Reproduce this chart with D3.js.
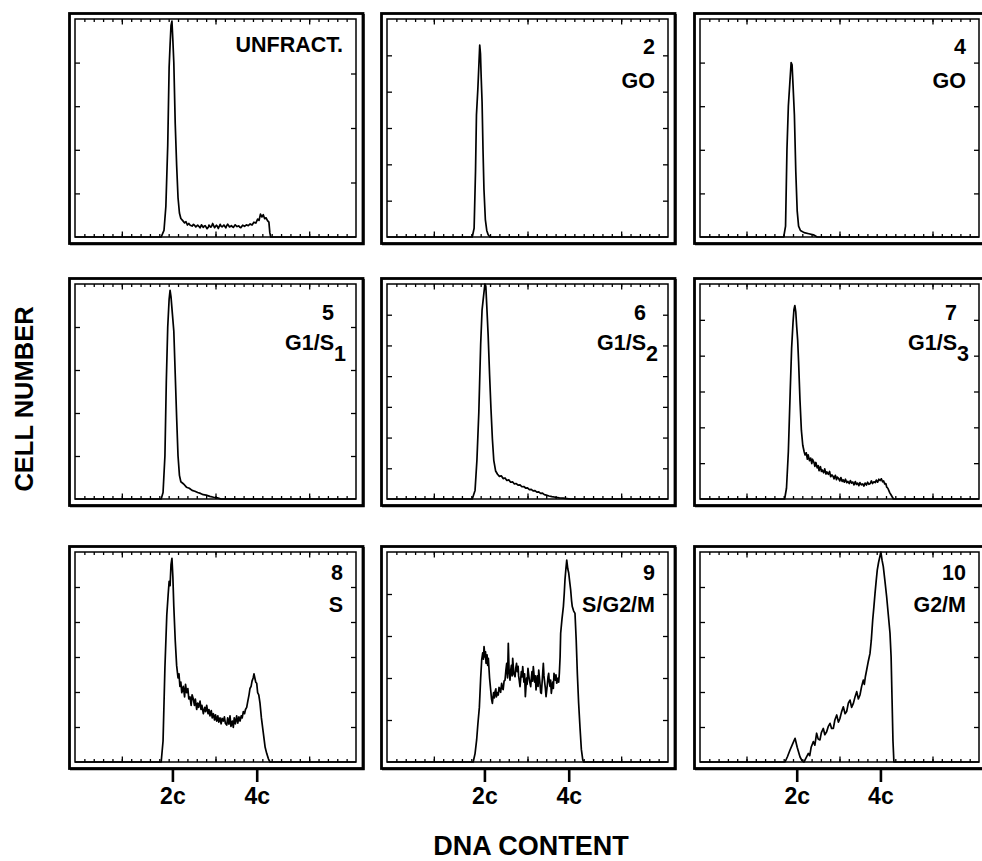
<!DOCTYPE html>
<html>
<head>
<meta charset="utf-8">
<script src="https://cdn.jsdelivr.net/npm/d3@7"></script>
<style>
  body { margin: 0; background: #fff; }
  text { font-family: "Liberation Sans", Arial, Helvetica, sans-serif; font-weight: bold; fill: #000; }
</style>
</head>
<body>
<svg></svg>
<script>

// ---- data (channel, % of full scale) ----
var unfract = [[0,0],[92,0],[95,3],[97,14],[99,42],[100.5,78],[101.5,88],[102.5,97],[103.5,99],[104.5,90],[105.5,80],[107,52],[108.5,33],[110,18],[111.5,11],[113,8.5],[115,7.5],[117,6.5],[118.5,7],[120,5.5],[121.5,6.2],[123,5.4],[125,5],[126.5,5.8],[128,5.2],[129,4.6],[131,5.4],[132.5,4.8],[133.5,4.2],[135,5.6],[137,4.4],[138,5],[139,5.2],[141,3.8],[142.5,4.6],[143,5.5],[145,4.5],[146,5.1],[147,6.2],[149,4.3],[151,5.4],[152,4.9],[153,3.9],[155,5.8],[156,5],[157,4.7],[159,5.5],[161,4.2],[162,5.2],[163,5.9],[165,4.6],[167,5.2],[168,4.7],[169,4.4],[171,5.6],[173,4.8],[175,5.1],[176,4.5],[177,4.3],[179,5.4],[181,4.9],[183,5.6],[185,5.2],[187,6],[189,5.5],[191,6.8],[193,6.4],[195,8.2],[196.5,7.6],[198,10.5],[199.5,9.2],[201,10.2],[202.5,8.4],[204,8.8],[205.5,7.5],[207,6.8],[208,2],[209,0],[300,0]];

var go2 = [[0,0],[91,0],[93,4],[94.5,30],[95.5,56],[97,68],[98,78],[99,88],[99.8,84],[100.5,74],[101.5,62],[102.5,40],[103.5,22],[105,8],[106.5,3],[108,1],[110,0],[300,0]];

var go4 = [[0,0],[90,0],[92,5],[93.5,40],[95,60],[96.5,70],[98,80],[99,79],[100,70],[101.5,56],[103,30],[104.5,12],[106,5],[108,3],[112,2],[117,1.5],[122,1],[126,0],[300,0]];

var g1s1 = [[0,0],[92,0],[94,3],[96,20],[97.5,55],[99,80],[100.5,93],[101.5,97],[102.5,94],[104,86],[105.5,78],[107,58],[108.5,38],[110,20],[111.5,11],[113,8],[116,7],[119,5.5],[122,5],[125,4],[128,3.6],[131,3],[134,2.6],[137,2],[140,1.8],[144,1.2],[148,0.8],[152,0.5],[156,0],[300,0]];

var g1s2 = [[0,0],[91,0],[94,4],[96,18],[98,40],[100,72],[101.5,88],[103,94],[104.5,100],[105.5,99],[106.5,90],[108,76],[109.5,58],[111,42],[112.5,28],[114,18],[116,13],[118,11.5],[120,10.5],[122,10.8],[124,9.5],[126,9.8],[128,8.6],[130,8.9],[132,7.8],[134,8],[136,7],[138,7.2],[140,6.4],[142,6.6],[144,5.7],[146,5.8],[148,5.1],[150,5.2],[152,4.4],[154,4.5],[156,3.8],[158,3.9],[160,3.2],[162,3.3],[164,2.6],[166,2.7],[168,2],[170,1.8],[173,1.4],[176,1.1],[180,0.8],[184,0.5],[188,0.4],[192,0.2],[196,0],[300,0]];

var g1s3 = [[0,0],[91,0],[93,5],[95,22],[97,50],[98.5,70],[100,82],[101,88],[102,90],[103,87],[104,80],[105,74],[106,64],[107.5,46],[109,32],[110.5,25],[112,22],[113,20.5],[114.2,21.5],[115.5,18.5],[116.3,20.5],[117.8,17.8],[119,19],[120.2,16.5],[121,18.5],[122.7,16.8],[123.5,15.2],[124.6,17],[126,14.5],[127.2,15.5],[128,13.2],[129.5,15],[130.6,12.8],[131.4,13.5],[133,12.2],[134.1,14],[135.5,11.6],[136.4,12.6],[138,11.5],[139.3,12.8],[140.5,10.4],[141.8,11.2],[143,10.6],[144.2,9.4],[145.5,11],[146.8,9],[147.6,10.2],[149,9.6],[150.3,8.4],[151.5,10],[152.8,8.2],[154,8.9],[155.2,7.8],[156.4,9.2],[157.8,7.6],[159,8.2],[160.5,7.2],[161.7,8.6],[163,7.4],[164.3,7.9],[165.6,6.6],[167,8.1],[168.2,6.8],[169.5,7.4],[170.8,6.2],[172,7.6],[173.5,6.6],[175,7],[176.2,6],[177.5,7.4],[179,6.5],[180.2,7.8],[181.6,6.8],[183,7.2],[184.3,8.4],[185.5,7.2],[187,8],[188.4,7.6],[189.6,8.8],[191,7.8],[192.3,9.2],[193.6,8.6],[195,9.4],[196.3,8],[197.5,8.4],[198.6,7],[199.8,7.2],[200.8,5.5],[202,5],[204,3],[206,1.5],[208,0],[300,0]];

var sPhase = [[0,0],[92,0],[94,10],[96,45],[98,70],[99.5,80],[100.5,86],[101.5,84],[102.5,94],[103.5,97],[104.5,88],[105.5,74],[107,58],[108.5,46],[110,40],[111,42],[112,36],[113,38],[114,33],[115.6,36],[117,31],[118,37],[119.2,33],[120.5,35],[121.5,30],[122.8,31],[124,27],[125,32],[126.3,30],[127.5,27],[128.5,30],[129.9,25],[131,28],[132,26],[133.5,29],[134.5,25],[135.5,27],[137,23],[138.5,26],[139.5,24],[140.6,27],[142,23],[143,25],[144.1,22],[145.5,24.5],[146.5,21],[147.7,23],[149,20],[150,22.5],[151.3,19.5],[152.5,22],[153.5,19],[154.8,21],[156,18.2],[157,20.8],[158.4,19.5],[159.5,21.5],[160.5,18.5],[162,17.6],[163,21],[164.3,18],[165.5,22],[166.5,17],[168,19.5],[169,16.5],[170,21],[171.2,18.2],[172.6,22],[173.8,18.5],[175,21.5],[176.2,19.5],[177.5,22],[178.5,21],[179.7,24],[181,23],[182,25],[183.3,26],[184.5,29],[185.8,32],[186.8,35],[188,36],[189,38.5],[190.2,40],[191.1,42],[192,40],[193,38],[194,37.5],[195,33],[196.2,32],[197.5,28],[199,21],[201,14],[203,7],[204.7,4],[206.5,1.5],[208.2,0],[300,0]];

var sG2M = [[0,0],[92,0],[94,4],[95.7,10.5],[97,18],[98.6,26],[100,40],[101.1,48.6],[102.2,52],[103,49],[103.6,55],[104.6,50],[105.2,52.5],[105.7,47],[106.8,51],[107.5,46],[108.2,49.4],[109.5,40],[110.7,34.3],[111.6,30],[112.5,27.9],[113.2,31],[113.8,33],[114.6,30.5],[115.3,33.5],[116.2,34.8],[116.8,31],[117.9,33],[118.8,31.9],[119.6,35.5],[120.5,35],[121.3,33.2],[122.4,37.5],[123.2,35],[124,34.5],[125,38.5],[126,39],[127,44],[127.8,47],[128.7,40],[129.5,56.5],[130.3,44],[131.3,39],[132,43.5],[132.8,46],[133.6,41],[134.2,49.4],[135.4,42],[136.7,40.6],[137.5,44.8],[138.3,47],[139.1,43],[140,45.5],[140.5,41],[141.3,38.5],[142,35.9],[143.4,43],[144.2,40.5],[144.9,45.4],[146.2,38],[146.9,42],[147.7,31.1],[149,40],[149.6,37],[150.5,44.6],[151.3,41.5],[152,39],[153.4,35.9],[154.1,40],[154.8,43],[155.5,38.5],[156.2,45.4],[157.7,38],[158.4,41],[159.1,34.3],[160.5,41],[161.3,36],[162,43.8],[163.4,37],[164.1,33],[164.8,32.7],[165.9,40],[166.9,47],[167.6,41],[168.3,38],[169.1,35],[169.8,31.1],[171.2,37],[171.9,40.5],[172.6,42.2],[173.3,38],[174,36],[174.7,39],[175.4,32.7],[176.9,38],[177.6,35],[178.3,42.2],[179.7,39],[180.4,41.5],[181.2,37.5],[182.6,40],[183.3,38],[184,42.2],[184.8,50],[185.4,61.3],[186.8,68],[188.3,74],[189.2,80],[190,86.7],[191,92],[191.9,96.2],[193,92],[194,90],[195,86],[196.1,81.9],[197,77],[197.8,74],[199.2,72],[200.7,70.8],[202,58],[203.2,42.2],[204.6,28],[206,16.8],[207.5,6],[209,1],[210,0],[300,0]];

var g2m = [[0,0],[91.4,0],[94,2.5],[96.8,5.7],[99.5,8.5],[102.2,11.3],[104.5,7],[107.5,2.5],[109.5,0.8],[111.8,0],[113.5,1.5],[116.5,4.1],[118,3],[119.5,7],[121.9,9.7],[123.5,8],[125.4,13.7],[127,11],[129,10.5],[130.5,14],[132.6,16],[134.2,13],[136.2,14.4],[138,17],[139.8,18.4],[141.5,16],[143.4,16],[145,20],[147,22.4],[148.8,19],[150.5,20.8],[152.3,24],[154.1,26.3],[156,23],[157.7,24],[159.5,28],[161.3,29.5],[163,26],[164.9,27.9],[166.7,31],[168.5,33.5],[170.3,30],[172,31.9],[173.8,36],[175.6,39],[176.7,37],[177.8,40.6],[179.2,43.8],[181,48],[182.8,51.7],[184.2,58],[185.7,67.6],[187,74],[188.2,80.3],[189.4,86],[190.6,91.4],[192,95],[193.5,98],[194.5,100],[195.8,96],[197.1,93],[198.9,86],[200.7,78.7],[202.5,70],[204.3,61.3],[205.5,50],[206.5,30],[207.5,10],[208.5,0],[300,0]];

var series = [unfract, go2, go4, g1s1, g1s2, g1s3, sPhase, sG2M, g2m];
var panelNumbers = ["", "2", "4", "5", "6", "7", "8", "9", "10"];
var panelNames = ["UNFRACT.", "GO", "GO", "G1/S", "G1/S", "G1/S", "S", "S/G2/M", "G2/M"];
var panelSubs = ["", "", "", "1", "2", "3", "", "", ""];
var leftTickCounts = [5, 6, 5, 5, 7, 6, 6, 5, 6];
var rightTickCounts = [4, 6, 5, 5, 7, 6, 6, 5, 6];
var xTickValues = [104, 194];
var xTickLabels = ["2c", "4c"];
var minorTicks = d3.range(10, 300, 10);
var majorTicks = [50, 150, 250];

// ---- layout ----
var W = 982, H = 861;
var colX = [75, 387, 700], colW = [281, 281, 279];
var rowY = [19, 284, 552], rowH = [218, 215, 210];
var numDy = [35, 36, 28], nameDy = [69, 66, 60];

var svg = d3.select("svg").attr("width", W).attr("height", H);

var line = d3.line().curve(d3.curveLinear);

series.forEach(function(data, i) {
  var r = Math.floor(i / 3), c = i % 3;
  var x0 = colX[c], y0 = rowY[r], w = colW[c], h = rowH[r];

  var x = d3.scaleLinear().domain([0, 300]).range([x0, x0 + w]);
  var y = d3.scaleLinear().domain([0, 100]).range([y0 + h, y0]);

  var g = svg.append("g").attr("class", "panel");

  // outer frame with heavier right/bottom edge
  g.append("rect")
    .attr("x", x0 - 5.5).attr("y", y0 - 5.5)
    .attr("width", w + 12.5).attr("height", h + 12)
    .attr("fill", "none").attr("stroke", "#000").attr("stroke-width", 2.8);
  g.append("path")
    .attr("d", "M" + (x0 + w + 8) + "," + (y0 - 5) + "V" + (y0 + h + 7.5) + "H" + (x0 - 5))
    .attr("fill", "none").attr("stroke", "#000").attr("stroke-width", 1.4);

  // inner frame
  g.append("rect")
    .attr("x", x0).attr("y", y0).attr("width", w).attr("height", h)
    .attr("fill", "none").attr("stroke", "#000").attr("stroke-width", 1.5);

  // inner tick marks
  var axes = [
    [d3.axisBottom(x).tickValues(minorTicks).tickSize(-3), y0 + h, 0],
    [d3.axisBottom(x).tickValues(majorTicks).tickSize(-5.5), y0 + h, 0],
    [d3.axisTop(x).tickValues(minorTicks).tickSize(-3), y0, 0],
    [d3.axisTop(x).tickValues(majorTicks).tickSize(-5.5), y0, 0],
    [d3.axisLeft(y).tickValues(d3.range(1, leftTickCounts[i]).map(function(k) { return 100 * k / leftTickCounts[i]; })).tickSize(-5), 0, x0],
    [d3.axisRight(y).tickValues(d3.range(1, rightTickCounts[i]).map(function(k) { return 100 * k / rightTickCounts[i]; })).tickSize(-5), 0, x0 + w]
  ];
  axes.forEach(function(a) {
    var ag = g.append("g")
      .attr("transform", "translate(" + a[2] + "," + a[1] + ")")
      .call(a[0].tickFormat(""));
    ag.select(".domain").remove();
    ag.selectAll("line").attr("stroke", "#000").attr("stroke-width", 1.3);
  });

  // histogram trace
  g.append("path")
    .datum(data)
    .attr("fill", "none")
    .attr("stroke", "#000")
    .attr("stroke-width", 1.7)
    .attr("stroke-linejoin", "round")
    .attr("d", line.x(function(d) { return x(d[0]); }).y(function(d) { return y(d[1]); }));

  // 2c / 4c ticks below the bottom row
  if (r === 2) {
    var xa = g.append("g")
      .attr("transform", "translate(0," + (y0 + h + 8) + ")")
      .call(d3.axisBottom(x).tickValues(xTickValues).tickSize(12).tickPadding(6)
        .tickFormat(function(d, k) { return xTickLabels[k]; }));
    xa.select(".domain").remove();
    xa.selectAll("line").attr("stroke", "#000").attr("stroke-width", 2.6);
    xa.selectAll("text").attr("font-size", 23).attr("fill", "#000")
      .style("font-family", "'Liberation Sans', Arial, sans-serif").style("font-weight", "bold");
  }

  // panel labels
  var right = x0 + w - 13;
  if (panelNumbers[i]) {
    g.append("text")
      .attr("x", r === 1 ? x0 + w - 22 : right)
      .attr("y", y0 + numDy[r])
      .attr("text-anchor", "end")
      .attr("font-size", 21.5)
      .text(panelNumbers[i]);
    var t = g.append("text")
      .attr("x", r === 1 ? x0 + w - 10 : right)
      .attr("y", y0 + nameDy[r])
      .attr("text-anchor", "end")
      .attr("font-size", 21.5);
    t.append("tspan").text(panelNames[i]);
    if (panelSubs[i]) t.append("tspan").attr("dy", 11).text(panelSubs[i]);
  } else {
    g.append("text")
      .attr("x", right)
      .attr("y", y0 + 33)
      .attr("text-anchor", "end")
      .attr("font-size", 21.5)
      .text(panelNames[i]);
  }
});

// axis titles
svg.append("text")
  .attr("transform", "translate(33,399) rotate(-90)")
  .attr("text-anchor", "middle")
  .attr("font-size", 25.5)
  .text("CELL NUMBER");

svg.append("text")
  .attr("x", 531)
  .attr("y", 855)
  .attr("text-anchor", "middle")
  .attr("font-size", 27)
  .text("DNA CONTENT");

</script>
</body>
</html>
